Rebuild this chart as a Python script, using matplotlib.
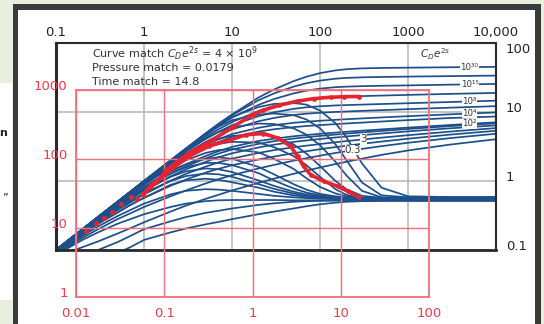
import numpy as np
import matplotlib
matplotlib.use("Agg")
import matplotlib.pyplot as plt
from matplotlib.patches import Rectangle

# --- type curves (black axes): dimensionless time t_D/C_D shared by all rows
td_cd = [0.1, 0.2, 0.3, 0.5, 0.7, 1, 2, 3, 5, 7, 10, 20, 30, 50, 70, 100,
         150, 200, 300, 500, 1000, 3000, 10000]

# C_D e^2s of each row, top to bottom
cde2s = ["1e30", "1e20", "1e15", "1e10", "1e8", "1e6", "1e4", "1e3", "1e2",
         "30", "10", "3", "1", "0.3", "0.1"]

pressure_pd = [
    [0.1, 0.2, 0.3, 0.5, 0.7, 1.0, 1.99, 2.97, 4.9, 6.75, 9.2, 16.2, 21.2, 28.0, 32.4, 36.6, 40.1, 41.7, 42.9, 43.5, 43.9, 44.5, 45.1],
    [0.1, 0.2, 0.3, 0.5, 0.7, 1.0, 1.98, 2.95, 4.85, 6.6, 9.0, 14.8, 18.6, 23.3, 26.1, 28.5, 30.4, 31.2, 31.8, 32.2, 32.6, 33.1, 33.7],
    [0.1, 0.2, 0.3, 0.5, 0.7, 0.99, 1.97, 2.92, 4.7, 6.25, 8.3, 12.7, 15.4, 18.6, 20.4, 21.8, 22.9, 23.3, 23.7, 24.0, 24.3, 24.9, 25.5],
    [0.1, 0.2, 0.3, 0.5, 0.69, 0.98, 1.93, 2.8, 4.33, 5.6, 7.13, 10.35, 12.2, 14.2, 15.2, 15.9, 16.5, 16.7, 17.0, 17.3, 17.7, 18.3, 18.9],
    [0.1, 0.2, 0.3, 0.49, 0.68, 0.97, 1.88, 2.69, 4.06, 5.15, 6.43, 8.7, 9.9, 11.1, 11.7, 12.1, 12.45, 12.6, 12.8, 13.05, 13.4, 13.95, 14.6],
    [0.1, 0.2, 0.3, 0.49, 0.68, 0.96, 1.8, 2.52, 3.68, 4.58, 5.6, 7.35, 8.2, 9.05, 9.45, 9.75, 10.03, 10.17, 10.4, 10.63, 11.0, 11.55, 12.15],
    [0.1, 0.2, 0.29, 0.48, 0.66, 0.93, 1.69, 2.32, 3.3, 4.02, 4.79, 5.9, 6.45, 6.97, 7.23, 7.47, 7.7, 7.86, 8.07, 8.34, 8.7, 9.25, 9.85],
    [0.1, 0.2, 0.29, 0.47, 0.65, 0.9, 1.61, 2.19, 3.06, 3.67, 4.3, 5.2, 5.62, 6.03, 6.26, 6.46, 6.67, 6.82, 7.02, 7.28, 7.63, 8.18, 8.6],
    [0.1, 0.19, 0.28, 0.45, 0.61, 0.82, 1.38, 1.75, 2.3, 2.7, 3.12, 3.8, 4.1, 4.45, 4.64, 4.83, 5.03, 5.17, 5.36, 5.6, 5.94, 6.48, 7.1],
    [0.1, 0.19, 0.28, 0.44, 0.59, 0.79, 1.28, 1.63, 2.12, 2.49, 2.86, 3.45, 3.77, 4.12, 4.31, 4.5, 4.71, 4.86, 5.06, 5.32, 5.68, 6.24, 6.85],
    [0.098, 0.19, 0.27, 0.42, 0.56, 0.74, 1.17, 1.48, 1.89, 2.21, 2.52, 3.06, 3.36, 3.69, 3.87, 4.06, 4.27, 4.42, 4.62, 4.88, 5.24, 5.8, 6.4],
    [0.096, 0.18, 0.26, 0.39, 0.51, 0.66, 1.01, 1.27, 1.61, 1.86, 2.11, 2.55, 2.8, 3.08, 3.25, 3.43, 3.64, 3.79, 3.99, 4.25, 4.61, 5.2, 5.85],
    [0.093, 0.17, 0.24, 0.35, 0.45, 0.57, 0.85, 1.05, 1.32, 1.5, 1.69, 2.05, 2.26, 2.53, 2.7, 2.89, 3.1, 3.25, 3.46, 3.73, 4.1, 4.7, 5.35],
    [0.087, 0.15, 0.2, 0.28, 0.34, 0.42, 0.6, 0.73, 0.92, 1.06, 1.21, 1.52, 1.71, 1.97, 2.14, 2.33, 2.55, 2.7, 2.92, 3.2, 3.58, 4.18, 4.84],
    [0.08, 0.11, 0.133, 0.173, 0.207, 0.252, 0.36, 0.44, 0.55, 0.63, 0.73, 0.94, 1.08, 1.27, 1.41, 1.57, 1.76, 1.9, 2.11, 2.39, 2.77, 3.37, 4.03],
]

# p_D' (t_D/C_D), same row order
deriv_pd = [
    [0.1, 0.2, 0.3, 0.5, 0.7, 1.0, 1.98, 2.95, 4.8, 6.5, 8.5, 11.8, 13.1, 13.5, 12.8, 10.5, 6.9, 4.3, 1.8, 0.8, 0.6, 0.585, 0.585],
    [0.1, 0.2, 0.3, 0.5, 0.7, 0.99, 1.95, 2.9, 4.6, 6.1, 7.6, 9.2, 9.5, 9.0, 7.8, 5.8, 3.4, 2.0, 0.95, 0.62, 0.58, 0.58, 0.58],
    [0.1, 0.2, 0.3, 0.5, 0.69, 0.98, 1.9, 2.75, 4.1, 5.1, 6.0, 6.8, 6.7, 5.8, 4.7, 3.3, 1.9, 1.2, 0.72, 0.58, 0.575, 0.575, 0.575],
    [0.1, 0.2, 0.3, 0.49, 0.67, 0.95, 1.8, 2.5, 3.5, 4.05, 4.5, 4.8, 4.4, 3.4, 2.5, 1.65, 1.0, 0.76, 0.61, 0.57, 0.57, 0.57, 0.57],
    [0.1, 0.2, 0.29, 0.48, 0.66, 0.93, 1.7, 2.3, 3.05, 3.45, 3.7, 3.6, 3.1, 2.3, 1.7, 1.15, 0.76, 0.63, 0.57, 0.565, 0.565, 0.565, 0.565],
    [0.1, 0.2, 0.29, 0.47, 0.64, 0.88, 1.55, 2.0, 2.55, 2.8, 2.9, 2.6, 2.1, 1.5, 1.1, 0.82, 0.66, 0.6, 0.565, 0.56, 0.56, 0.56, 0.56],
    [0.1, 0.19, 0.28, 0.45, 0.6, 0.82, 1.38, 1.75, 2.1, 2.2, 2.1, 1.6, 1.25, 0.9, 0.75, 0.65, 0.6, 0.575, 0.56, 0.555, 0.555, 0.555, 0.555],
    [0.1, 0.19, 0.28, 0.44, 0.58, 0.78, 1.28, 1.58, 1.83, 1.83, 1.7, 1.3, 1.02, 0.78, 0.68, 0.62, 0.58, 0.565, 0.555, 0.55, 0.55, 0.55, 0.55],
    [0.098, 0.185, 0.265, 0.41, 0.54, 0.72, 1.15, 1.38, 1.52, 1.48, 1.35, 1.02, 0.85, 0.7, 0.64, 0.6, 0.57, 0.56, 0.55, 0.545, 0.545, 0.545, 0.545],
    [0.096, 0.18, 0.25, 0.38, 0.49, 0.64, 1.0, 1.18, 1.28, 1.25, 1.15, 0.9, 0.77, 0.66, 0.61, 0.58, 0.56, 0.55, 0.545, 0.54, 0.54, 0.54, 0.54],
    [0.094, 0.17, 0.24, 0.35, 0.45, 0.57, 0.88, 1.02, 1.08, 1.04, 0.96, 0.8, 0.7, 0.62, 0.59, 0.57, 0.555, 0.545, 0.54, 0.535, 0.535, 0.535, 0.535],
    [0.09, 0.16, 0.22, 0.31, 0.38, 0.47, 0.64, 0.72, 0.76, 0.75, 0.72, 0.65, 0.61, 0.58, 0.565, 0.555, 0.545, 0.54, 0.535, 0.53, 0.53, 0.53, 0.53],
    [0.085, 0.14, 0.18, 0.24, 0.28, 0.33, 0.42, 0.47, 0.51, 0.525, 0.53, 0.53, 0.53, 0.525, 0.525, 0.525, 0.525, 0.525, 0.525, 0.525, 0.525, 0.525, 0.525],
    [0.045, 0.075, 0.1, 0.13, 0.16, 0.2, 0.26, 0.3, 0.345, 0.37, 0.4, 0.45, 0.475, 0.5, 0.51, 0.515, 0.52, 0.52, 0.52, 0.52, 0.52, 0.52, 0.52],
    [0.03, 0.05, 0.065, 0.09, 0.11, 0.14, 0.18, 0.205, 0.235, 0.255, 0.28, 0.33, 0.36, 0.4, 0.43, 0.46, 0.485, 0.5, 0.51, 0.515, 0.515, 0.515, 0.515],
]

# curve labels: (text, row index, t_D/C_D where the label sits, font size)
curve_labels = [("10\u00b3\u2070", 0, 5000, 6.2), ("10\u00b9\u2075", 2, 5000, 6.2),
                ("10\u2078", 4, 5000, 6.2), ("10\u2074", 6, 5000, 6.2),
                ("10\u00b2", 8, 5000, 6.2), ("3", 11, 310, 7.5), ("0.3", 13, 237, 7.5)]

# --- field data (red axes): elapsed time (hr) and pressure change (psi)
early_dt = [0.013, 0.0169, 0.0206, 0.0257, 0.0327, 0.0422, 0.0493, 0.0573]
early_dp = [9.05, 11.7, 14.1, 17.2, 22.1, 28.4, 26.1, 30.1]
press_dt = [0.0573, 0.0711, 0.0811, 0.0925, 0.105, 0.192, 0.357, 0.6, 1.0, 1.33, 2.0, 3.25, 4.93, 7.69, 11.0, 16.0]
press_dp = [30.1, 42, 46.9, 55.4, 69, 122, 190, 290, 440, 510, 600, 690, 750, 785, 800, 805]
deriv_dt = [0.0573, 0.0711, 0.105, 0.192, 0.324, 0.548, 0.855, 1.33, 1.92, 2.70, 3.25, 3.80, 4.56, 6.41, 9.25, 12.0, 16.0]
deriv_dp = [30.1, 40, 62, 110, 154, 188, 225, 234, 202, 153, 109, 78, 59, 47.5, 40.2, 34, 28.1]

black_xticks = [0.1, 1, 10, 100, 1000, 10000]
black_xlabels = ["0.1", "1", "10", "100", "1000", "10,000"]
black_yticks = [0.1, 1, 10, 100]
black_ylabels = ["0.1", "1", "10", "100"]
red_xticks = [0.01, 0.1, 1, 10, 100]
red_xlabels = ["0.01", "0.1", "1", "10", "100"]
red_yticks = [1, 10, 100, 1000]
red_ylabels = ["1", "10", "100", "1000"]

BLUE = "#1d4f8a"
RED = "#e8232f"
RED_GRID = "#f2707c"
W, H = 544, 324


def box(x0, y0, x1, y1):
    # image pixels (origin top-left) -> figure fraction [l, b, w, h]
    return [x0 / W, 1 - y1 / H, (x1 - x0) / W, (y1 - y0) / H]


def on_curve(row, t):
    return 10 ** np.interp(np.log10(t), np.log10(td_cd), np.log10(row))


fig = plt.figure(figsize=(W / 100, H / 100), dpi=100)
fig.patch.set_facecolor("#e9efde")
for rect, col in [(box(13, 4, 541, 330), "#3b3b3b"), (box(18, 10, 535, 330), "white"),
                  (box(0, 83, 12, 300), "white")]:
    fig.add_artist(Rectangle(rect[:2], rect[2], rect[3], transform=fig.transFigure,
                             facecolor=col, edgecolor="none", zorder=-5))
fig.text(-1 / W, 1 - 133 / H, "n", fontsize=8, fontweight="bold", va="center", color="#222")
fig.text(2 / W, 1 - 197 / H, "\u201d", fontsize=8, va="center", color="#222")

# black type-curve axes
ax = fig.add_axes(box(56, 43, 496, 250))
ax.set_xscale("log")
ax.set_yscale("log")
ax.set_xlim(0.1, 10000)
ax.set_ylim(0.1, 100)
ax.minorticks_off()
ax.grid(True, which="major", color="#b4b4b4", lw=1.1)
ax.set_axisbelow(True)
for s in ax.spines.values():
    s.set_color("#2a2a2a")
    s.set_linewidth(1.5)
ax.spines["left"].set_linewidth(2.2)
ax.spines["bottom"].set_linewidth(2.0)
ax.xaxis.tick_top()
ax.yaxis.tick_right()
ax.set_xticks(black_xticks, black_xlabels)
ax.set_yticks(black_yticks, black_ylabels)
ax.tick_params(length=0, labelsize=9.5, colors="#222")
ax.tick_params(axis="x", pad=3)
ax.tick_params(axis="y", pad=7)
for lbl in ax.get_yticklabels():
    lbl.set_va("top" if lbl.get_text() == "100" else "baseline")

for row in pressure_pd:
    ax.plot(td_cd, row, color=BLUE, lw=1.25, solid_capstyle="round")
for row in deriv_pd:
    ax.plot(td_cd, row, color=BLUE, lw=1.25, solid_capstyle="round")

for text, i, t, size in curve_labels:
    ax.text(t, on_curve(pressure_pd[i], t), text, fontsize=size, color="#333",
            ha="center", va="center",
            bbox=dict(boxstyle="square,pad=0.02", fc="white", ec="none"))
ax.text(0.861, 0.947, "$C_De^{2s}$", transform=ax.transAxes, fontsize=7.5,
        color="#333", ha="center", va="center")

info = ["Curve match $C_De^{2s}$ = 4 \u00d7 10$^{9}$", "Pressure match = 0.0179",
        "Time match = 14.8"]
for k, line in enumerate(info):
    ax.text(0.082, 0.947 - k * 0.0676, line, transform=ax.transAxes, fontsize=8,
            color="#333", ha="left", va="center")

# red data axes overlaid
rax = fig.add_axes(box(76, 90, 429, 297))
rax.patch.set_alpha(0)
rax.set_xscale("log")
rax.set_yscale("log")
rax.set_xlim(0.01, 100)
rax.set_ylim(1, 1000)
rax.minorticks_off()
rax.grid(True, which="major", color=RED_GRID, lw=1.0)
for s in rax.spines.values():
    s.set_color(RED_GRID)
    s.set_linewidth(1.3)
rax.set_xticks(red_xticks, red_xlabels)
rax.set_yticks(red_yticks, red_ylabels)
rax.tick_params(length=0, labelsize=9.5, colors="#ee3a4a")
rax.tick_params(axis="x", pad=7)
rax.tick_params(axis="y", pad=6)
for lbl in rax.get_yticklabels():
    lbl.set_va("baseline")

rax.plot(early_dt, early_dp, "o", color=RED, ms=3.6, mec="none")
rax.plot(press_dt, press_dp, "-o", color=RED, lw=2.6, ms=3.4, mec="none")
rax.plot(deriv_dt, deriv_dp, "-o", color=RED, lw=2.6, ms=3.4, mec="none")

fig.savefig("out.png", dpi=100, facecolor=fig.get_facecolor())
